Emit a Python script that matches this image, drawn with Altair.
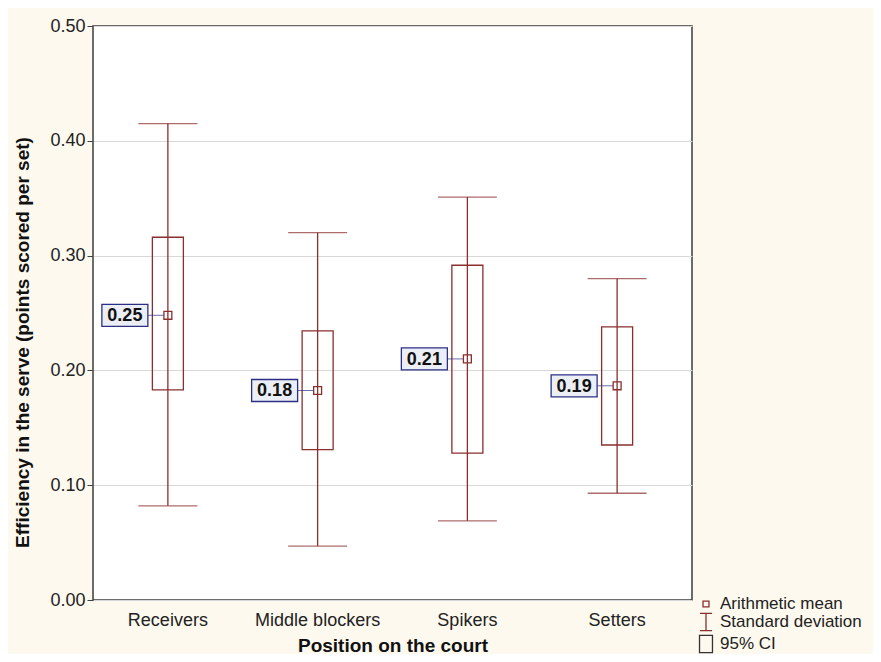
import altair as alt
import pandas as pd

positions = ["Receivers", "Middle blockers", "Spikers", "Setters"]
means = [0.248, 0.1825, 0.210, 0.1866]
sd_low = [0.082, 0.047, 0.069, 0.093]
sd_high = [0.415, 0.320, 0.351, 0.280]
ci_low = [0.183, 0.131, 0.128, 0.135]
ci_high = [0.316, 0.2345, 0.2916, 0.238]
mean_labels = ["0.25", "0.18", "0.21", "0.19"]
legend_items = ["Arithmetic mean", "Standard deviation", "95% CI"]

df = pd.DataFrame({
    "pos": positions, "mean": means, "sd_lo": sd_low, "sd_hi": sd_high,
    "ci_lo": ci_low, "ci_hi": ci_high, "lab": mean_labels,
    "kind": ["Arithmetic mean"] * 4,
})

RED = "#8A2E2E"
NAVY = "#2B2F85"
FONT = "Liberation Sans"

xenc = alt.X("pos:N", sort=positions,
             scale=alt.Scale(domain=positions, paddingInner=0, paddingOuter=0),
             axis=alt.Axis(title="Position on the court", labelAngle=0, ticks=False,
                           labelPadding=11, labelFontSize=18, labelColor="#222222",
                           titleFontSize=19, titleFontWeight="bold", titleColor="#111111",
                           titleY=45, titleBaseline="middle", domain=False, grid=False))
yscale = alt.Scale(domain=[0, 0.5], nice=False, zero=True)
yaxis = alt.Axis(title="Efficiency in the serve (points scored per set)",
                 values=[0, 0.1, 0.2, 0.3, 0.4, 0.5], format=".2f",
                 labelFontSize=18, labelColor="#222222", tickSize=6, tickColor="#404040",
                 labelPadding=2, domain=False, grid=True, gridColor="#D8D8D8",
                 titleFontSize=19, titleFontWeight="bold", titleColor="#111111",
                 titleX=-71, titleY=316, titleAngle=-90, titleAlign="center",
                 titleBaseline="middle")

base = alt.Chart(df)

ci_box = base.mark_bar(width=31, fillOpacity=0, stroke=RED, strokeWidth=1.3).encode(
    x=xenc, y=alt.Y("ci_lo:Q", scale=yscale, axis=yaxis), y2="ci_hi:Q")

sd_line = base.mark_rule(color=RED, strokeWidth=1.3).encode(
    x=alt.X("pos:N", sort=positions), y="sd_lo:Q", y2="sd_hi:Q")

cap_hi = base.mark_tick(color=RED, size=59, thickness=1.3).encode(
    x=alt.X("pos:N", sort=positions), y="sd_hi:Q")
cap_lo = base.mark_tick(color=RED, size=59, thickness=1.3).encode(
    x=alt.X("pos:N", sort=positions), y="sd_lo:Q")

connector = base.mark_tick(color=NAVY, size=16, thickness=1, xOffset=-12,
                           strokeDash=[3, 2]).encode(
    x=alt.X("pos:N", sort=positions), y="mean:Q")

label_box = base.mark_point(shape="M-1,-0.478H1V0.478H-1Z", size=2116, filled=True,
                            fill="#ECEEF6", stroke=NAVY, strokeWidth=1.3, opacity=1,
                            xOffset=-43).encode(
    x=alt.X("pos:N", sort=positions), y="mean:Q")

label_text = base.mark_text(dx=-43, dy=1, fontSize=18, fontWeight="bold", font=FONT,
                            color="#111111", align="center", baseline="middle").encode(
    x=alt.X("pos:N", sort=positions), y="mean:Q", text="lab:N")

shape_range = [
    "M-0.33,-0.33H0.33V0.33H-0.33Z",
    "M-0.67,-0.95H0.67M0,-0.95V0.95M-0.67,0.95H0.67",
    "M-0.72,-0.95H0.72V0.95H-0.72Z",
]
color_range = [RED, RED, "#333333"]

leg = alt.Legend(title=None, orient="none", legendX=603, legendY=568,
                 symbolSize=324, symbolStrokeWidth=1.3,
                 labelFontSize=17, labelFont=FONT, labelColor="#222222",
                 labelOffset=4, rowPadding=-2, padding=0, symbolOffset=0)

mean_pts = base.mark_point(filled=False, size=576, strokeWidth=1.3, opacity=1).encode(
    x=alt.X("pos:N", sort=positions), y="mean:Q",
    shape=alt.Shape("kind:N", scale=alt.Scale(domain=legend_items, range=shape_range),
                    legend=leg),
    color=alt.Color("kind:N", scale=alt.Scale(domain=legend_items, range=color_range),
                    legend=leg),
)

chart = alt.layer(ci_box, sd_line, cap_hi, cap_lo, connector, label_box, label_text,
                  mean_pts).properties(
    width=599, height=574,
    autosize=alt.AutoSizeParams(type="none"),
    padding={"left": 85, "top": 18, "right": 181, "bottom": 54},
    background="#FDF9EE",
).configure_view(
    stroke="#3C3C3C", strokeWidth=1.5, fill="white"
).configure_axis(
    labelFont=FONT, titleFont=FONT
).configure_legend(
    labelFont=FONT
)

chart.save("out.html", embed_options={"renderer": "svg", "actions": False})
